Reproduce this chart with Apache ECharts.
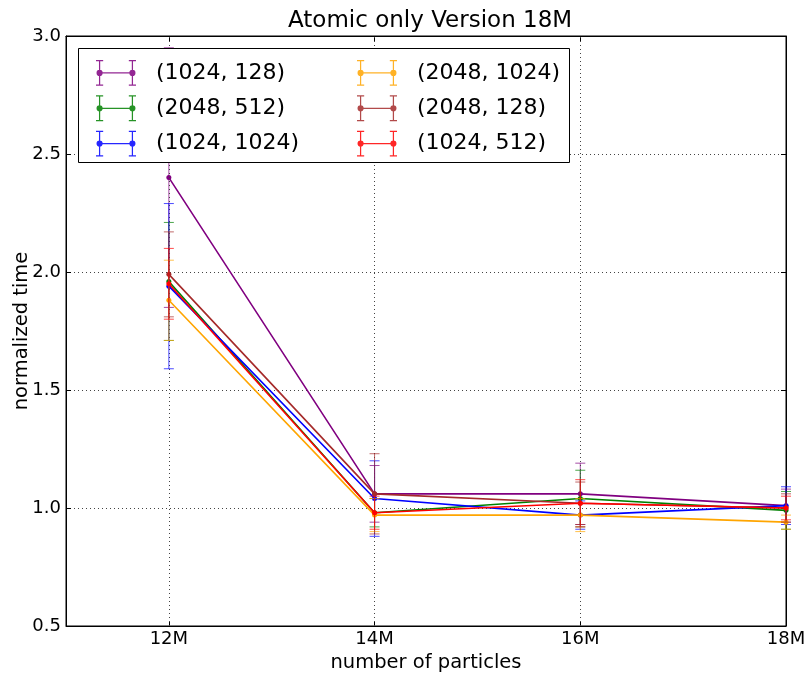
<!DOCTYPE html>
<html>
<head>
<meta charset="utf-8">
<script src="https://cdn.jsdelivr.net/npm/echarts@6/dist/echarts.min.js"></script>
<style>
  html, body { margin: 0; padding: 0; background: #fff; }
  #chart { width: 809px; height: 674px; }
</style>
</head>
<body>
<div id="chart"></div>
<script>
  // number of particles, in millions
  var xValues = [12, 14, 16, 18];
  var xTickLabels = ['12M', '14M', '16M', '18M'];

  var seriesNames = ['(1024, 128)', '(2048, 512)', '(1024, 1024)', '(2048, 1024)', '(2048, 128)', '(1024, 512)'];
  var seriesColors = ['#800080', '#008000', '#0000ff', '#ffa500', '#a52a2a', '#ff0000'];

  // normalized time and its error (+/-), one value per particle count
  var time_1024_128 = [2.40, 1.06, 1.06, 1.01];
  var err_1024_128 = [0.55, 0.12, 0.13, 0.07];
  var time_2048_512 = [1.96, 0.98, 1.04, 0.99];
  var err_2048_512 = [0.25, 0.06, 0.12, 0.08];
  var time_1024_1024 = [1.94, 1.04, 0.97, 1.01];
  var err_1024_1024 = [0.35, 0.16, 0.06, 0.08];
  var time_2048_1024 = [1.88, 0.97, 0.97, 0.94];
  var err_2048_1024 = [0.17, 0.07, 0.07, 0.03];
  var time_2048_128 = [1.99, 1.06, 1.02, 1.00];
  var err_2048_128 = [0.18, 0.17, 0.09, 0.06];
  var time_1024_512 = [1.95, 0.98, 1.02, 1.00];
  var err_1024_512 = [0.15, 0.07, 0.10, 0.05];

  var times = [time_1024_128, time_2048_512, time_1024_1024, time_2048_1024, time_2048_128, time_1024_512];
  var errors = [err_1024_128, err_2048_512, err_1024_1024, err_2048_1024, err_2048_128, err_1024_512];

  var FONT = 'DejaVu Sans';

  // errorbar glyph for the legend: two capped bars joined by a line with dots
  // (all sub-paths clockwise so the nonzero fill doesn't punch holes)
  var errIcon = 'path://M3.4 1h1.2v24h-1.2Z M0.5 0.4h7v1.2h-7Z M0.5 24.4h7v1.2h-7Z ' +
    'M35.4 1h1.2v24h-1.2Z M32.5 0.4h7v1.2h-7Z M32.5 24.4h7v1.2h-7Z M4 12.4h32v1.2h-32Z ' +
    'M1 13a3 3 0 1 1 6 0a3 3 0 1 1 -6 0Z M33 13a3 3 0 1 1 6 0a3 3 0 1 1 -6 0Z';

  function renderErrorBar(params, api) {
    var x = api.value(0);
    var lo = api.coord([x, api.value(1)]);
    var hi = api.coord([x, api.value(2)]);
    var half = 5;
    var style = { stroke: api.visual('color'), lineWidth: 1, opacity: 0.7 };
    return {
      type: 'group',
      children: [
        { type: 'line', shape: { x1: lo[0], y1: lo[1], x2: hi[0], y2: hi[1] }, style: style },
        { type: 'line', shape: { x1: lo[0] - half, y1: lo[1], x2: lo[0] + half, y2: lo[1] }, style: style },
        { type: 'line', shape: { x1: hi[0] - half, y1: hi[1], x2: hi[0] + half, y2: hi[1] }, style: style }
      ]
    };
  }

  var series = [];
  for (var i = 0; i < seriesNames.length; i++) {
    var barData = [];
    var lineData = [];
    for (var j = 0; j < xValues.length; j++) {
      barData.push([xValues[j], times[i][j] - errors[i][j], times[i][j] + errors[i][j]]);
      lineData.push([xValues[j], times[i][j]]);
    }
    series.push({
      name: seriesNames[i],
      type: 'custom',
      renderItem: renderErrorBar,
      itemStyle: { color: seriesColors[i] },
      encode: { x: 0, y: [1, 2] },
      data: barData,
      z: 2 + i * 2
    });
    series.push({
      name: seriesNames[i],
      type: 'line',
      symbol: 'circle',
      symbolSize: 5,
      showSymbol: true,
      itemStyle: { color: seriesColors[i] },
      lineStyle: { color: seriesColors[i], width: 1.6 },
      data: lineData,
      z: 3 + i * 2
    });
  }

  function legendFor(names, colors, left) {
    return {
      orient: 'vertical',
      left: left,
      top: 55,
      itemWidth: 40,
      itemHeight: 26,
      itemGap: 9.5,
      z: 110,
      selectedMode: false,
      textStyle: { fontFamily: FONT, fontSize: 22, color: '#000', padding: [0, 0, 0, 15] },
      data: names.map(function (n, k) {
        return { name: n, icon: errIcon, itemStyle: { color: colors[k], borderWidth: 0, opacity: 0.85 } };
      })
    };
  }

  var chart = echarts.init(document.getElementById('chart'));
  var option = {
    animation: false,
    backgroundColor: '#fff',
    title: {
      text: 'Atomic only Version 18M',
      left: 283,
      top: 5,
      textStyle: { fontFamily: FONT, fontSize: 23, fontWeight: 'normal', color: '#000' }
    },
    grid: {
      left: 66, right: 23, top: 36, bottom: 48,
      containLabel: false,
      outerBoundsMode: 'none',
      show: true, borderColor: '#000', borderWidth: 1, backgroundColor: 'transparent'
    },
    legend: [
      legendFor(seriesNames.slice(0, 3), seriesColors.slice(0, 3), 91),
      legendFor(seriesNames.slice(3), seriesColors.slice(3), 352)
    ],
    graphic: [{
      type: 'rect',
      z: 100,
      shape: { x: 78.5, y: 48.5, width: 491, height: 114 },
      style: { fill: '#fff', stroke: '#000', lineWidth: 1 }
    }],
    xAxis: [{
      type: 'value',
      min: 11,
      max: 18,
      interval: 1,
      name: 'number of particles',
      nameLocation: 'middle',
      nameGap: 27,
      nameMoveOverlap: false,
      nameTextStyle: { fontFamily: FONT, fontSize: 19.5, color: '#000' },
      axisLine: { show: true, lineStyle: { color: '#000', width: 1 } },
      axisTick: { show: true, inside: true, length: 5, customValues: xValues, lineStyle: { color: '#000' } },
      axisLabel: {
        customValues: xValues,
        margin: 4,
        fontFamily: FONT, fontSize: 18, color: '#000',
        formatter: function (v) { return xTickLabels[xValues.indexOf(v)] || ''; }
      },
      splitLine: { show: false }
    }, {
      type: 'value',
      position: 'top',
      min: 11,
      max: 18,
      interval: 1,
      axisLine: { show: true, lineStyle: { color: '#000', width: 1 } },
      axisTick: { show: true, inside: true, length: 5, customValues: xValues, lineStyle: { color: '#000' } },
      axisLabel: { show: false },
      splitLine: { show: false }
    }],
    yAxis: [{
      type: 'value',
      min: 0.5,
      max: 3.0,
      interval: 0.5,
      name: 'normalized time',
      nameLocation: 'middle',
      nameGap: 34,
      nameMoveOverlap: false,
      nameRotate: 90,
      nameTextStyle: { fontFamily: FONT, fontSize: 19.5, color: '#000' },
      axisLine: { show: true, lineStyle: { color: '#000', width: 1 } },
      axisTick: { show: true, inside: true, length: 5, lineStyle: { color: '#000' } },
      axisLabel: {
        margin: 5,
        fontFamily: FONT, fontSize: 18, color: '#000',
        formatter: function (v) { return v.toFixed(1); }
      },
      splitLine: { show: true, lineStyle: { color: '#444', type: [1, 3], width: 1 } }
    }, {
      type: 'value',
      position: 'right',
      min: 0.5,
      max: 3.0,
      interval: 0.5,
      axisLine: { show: true, lineStyle: { color: '#000', width: 1 } },
      axisTick: { show: true, inside: true, length: 5, lineStyle: { color: '#000' } },
      axisLabel: { show: false },
      splitLine: { show: false }
    }],
    series: series.concat([{
      // vertical dotted grid lines at the labelled particle counts
      type: 'line',
      data: [],
      markLine: {
        silent: true,
        symbol: 'none',
        label: { show: false },
        lineStyle: { color: '#444', type: [1, 3], width: 1 },
        data: xValues.slice(0, 3).map(function (v) { return { xAxis: v }; })
      },
      z: 1
    }])
  };
  chart.setOption(option);
</script>
</body>
</html>
